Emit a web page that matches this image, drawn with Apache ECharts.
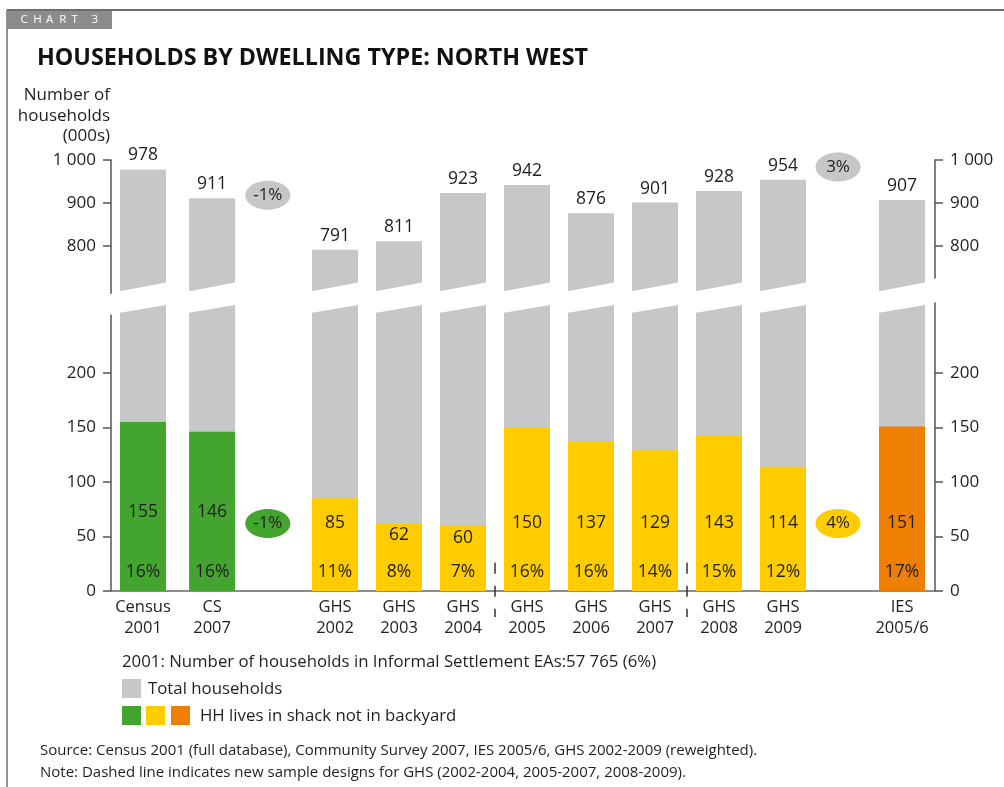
<!DOCTYPE html>
<html>
<head>
<meta charset="utf-8">
<script src="https://cdn.jsdelivr.net/npm/echarts@6/dist/echarts.min.js"></script>
<style>html,body{margin:0;padding:0;background:#fff}#c{width:1004px;height:787px}</style>
</head>
<body>
<div id="c"></div>
<script>
// ---- data ----
const categories = ['Census\n2001','CS\n2007','GHS\n2002','GHS\n2003','GHS\n2004','GHS\n2005','GHS\n2006','GHS\n2007','GHS\n2008','GHS\n2009','IES\n2005/6'];
const totals = [978, 911, 791, 811, 923, 942, 876, 901, 928, 954, 907];
const shack = [155, 146, 85, 62, 60, 150, 137, 129, 143, 114, 151];
const shackPct = ['16%','16%','11%','8%','7%','16%','16%','14%','15%','12%','17%'];
const source = ['census','census','ghs','ghs','ghs','ghs','ghs','ghs','ghs','ghs','ies'];
const growthUpper = ['-1%', '3%'];
const growthLower = ['-1%', '4%'];
const upperTicks = [800, 900, 1000];
const lowerTicks = [0, 50, 100, 150, 200];

// ---- layout ----
const xSlot = [0, 1.08, 3, 4, 5, 6, 7, 8, 9, 10, 11.86];
const growthPairs = [[1, 2], [9, 10]];
const growthShift = [-0.09, -0.07];
const growthUpperY = [918, 984];
const growthLowerY = 62;
const dividersAfter = [4, 7];
const BAR_W = 46;
const UP_BREAK_L = 695, UP_BREAK_R = 715;
const LO_BREAK_L = 255.3, LO_BREAK_R = 262.4;
const GRAY = '#c6c7c9';
const COLORS = { census: '#43a42f', ghs: '#ffcc00', ies: '#ef7f00' };
const FONT = '"Open Sans", "DejaVu Sans", sans-serif';
const TXT = '#1f1f1f';
const headerLetters = ['C', 'H', 'A', 'R', 'T', '3'];
const headerX = [20.5, 33.2, 46, 59.2, 71.4, 91.6];

const chart = echarts.init(document.getElementById('c'), null, { renderer: 'canvas' });

function fmtThousands(v) {
  return String(v).replace(/\B(?=(\d{3})+(?!\d))/g, ' ');
}

const xCommon = { type: 'value', min: -0.5, max: 12.375, splitLine: { show: false } };
const yAxisStyle = (pos, ticks) => ({
  type: 'value', position: pos,
  splitLine: { show: false },
  axisLine: { show: true, onZero: false, lineStyle: { color: '#555', width: 1.5 } },
  axisTick: { show: true, inside: false, length: 8, lineStyle: { color: '#555', width: 1.5 }, customValues: ticks },
  axisLabel: { show: true, margin: 15, fontSize: 17, color: TXT, fontFamily: FONT, customValues: ticks, formatter: fmtThousands }
});

const option = {
  animation: false,
  backgroundColor: '#fff',
  grid: [
    { left: 111, top: 160, width: 824, height: 133.3 },
    { left: 111, top: 315.2, width: 824, height: 275.8 },
    { left: 111, top: 160, width: 824, height: 118 },
    { left: 111, top: 303, width: 824, height: 288 }
  ],
  xAxis: [
    Object.assign({ gridIndex: 0, show: false }, xCommon),
    Object.assign({
      gridIndex: 1, position: 'bottom',
      axisLine: { show: true, onZero: false, lineStyle: { color: '#666', width: 1.5 } },
      axisTick: { show: false },
      axisLabel: {
        show: true, margin: 6, fontSize: 16.5, lineHeight: 21, color: TXT, fontFamily: FONT,
        customValues: xSlot,
        formatter: (v) => { const i = xSlot.findIndex(s => Math.abs(s - v) < 1e-6); return i >= 0 ? categories[i] : ''; }
      }
    }, xCommon),
    Object.assign({ gridIndex: 2, show: false }, xCommon),
    Object.assign({ gridIndex: 3, show: false }, xCommon)
  ],
  yAxis: [
    Object.assign({ gridIndex: 0, min: 690, max: 1000 }, yAxisStyle('left', upperTicks)),
    Object.assign({ gridIndex: 2, min: 725.6, max: 1000 }, yAxisStyle('right', upperTicks)),
    Object.assign({ gridIndex: 1, min: 0, max: 253 }, yAxisStyle('left', lowerTicks)),
    Object.assign({ gridIndex: 3, min: 0, max: 264.2 }, yAxisStyle('right', lowerTicks))
  ],
  series: [
    // upper part of total bars
    {
      type: 'custom', xAxisIndex: 0, yAxisIndex: 0, clip: false,
      data: totals.map((v, i) => [xSlot[i], v]),
      renderItem: (params, api) => {
        const x = api.value(0), v = api.value(1);
        const top = api.coord([x, v]);
        const bl = api.coord([x, UP_BREAK_L])[1], br = api.coord([x, UP_BREAK_R])[1];
        const h = BAR_W / 2;
        return { type: 'group', children: [
          { type: 'polygon', shape: { points: [[top[0] - h, top[1]], [top[0] + h, top[1]], [top[0] + h, br], [top[0] - h, bl]] }, style: { fill: GRAY } },
          { type: 'text', style: { text: String(v), x: top[0], y: top[1] - 5, align: 'center', verticalAlign: 'bottom', fontSize: 17.5, fontFamily: FONT, fill: TXT } }
        ] };
      }
    },
    // lower part of total bars
    {
      type: 'custom', xAxisIndex: 1, yAxisIndex: 2, clip: false,
      data: totals.map((v, i) => [xSlot[i], v]),
      renderItem: (params, api) => {
        const x = api.value(0);
        const base = api.coord([x, 0]);
        const tl = api.coord([x, LO_BREAK_L])[1], tr = api.coord([x, LO_BREAK_R])[1];
        const h = BAR_W / 2;
        return { type: 'polygon', shape: { points: [[base[0] - h, tl], [base[0] + h, tr], [base[0] + h, base[1]], [base[0] - h, base[1]]] }, style: { fill: GRAY } };
      }
    },
    // shack bars
    {
      type: 'custom', xAxisIndex: 1, yAxisIndex: 2, clip: false,
      data: shack.map((v, i) => [xSlot[i], v, i]),
      renderItem: (params, api) => {
        const x = api.value(0), v = api.value(1), i = api.value(2);
        const base = api.coord([x, 0]);
        const top = api.coord([x, v]);
        const h = BAR_W / 2;
        const grp = source[i];
        const numAt = Math.min(grp === 'census' ? 72 : 62.5, v - 11);
        const numY = api.coord([x, numAt])[1];
        const pctY = api.coord([x, 17.5])[1];
        return { type: 'group', children: [
          { type: 'rect', shape: { x: base[0] - h, y: top[1], width: BAR_W, height: base[1] - top[1] }, style: { fill: COLORS[grp] } },
          { type: 'text', style: { text: String(v), x: base[0], y: numY, align: 'center', verticalAlign: 'middle', fontSize: 17.5, fontFamily: FONT, fill: TXT } },
          { type: 'text', style: { text: shackPct[i], x: base[0], y: pctY, align: 'center', verticalAlign: 'middle', fontSize: 17.5, fontFamily: FONT, fill: TXT } }
        ] };
      }
    },
    // growth ellipses upper
    {
      type: 'custom', xAxisIndex: 0, yAxisIndex: 0, clip: false, z: 5,
      data: growthPairs.map((p, k) => [(xSlot[p[0]] + xSlot[p[1]]) / 2 + growthShift[k], growthUpperY[k], k]),
      renderItem: (params, api) => {
        const c = api.coord([api.value(0), api.value(1)]);
        const k = api.value(2);
        return { type: 'group', children: [
          { type: 'ellipse', shape: { cx: c[0], cy: c[1], rx: 22.5, ry: 14.5 }, style: { fill: GRAY } },
          { type: 'text', style: { text: growthUpper[k], x: c[0], y: c[1], align: 'center', verticalAlign: 'middle', fontSize: 17, fontFamily: FONT, fill: TXT } }
        ] };
      }
    },
    // growth ellipses lower
    {
      type: 'custom', xAxisIndex: 1, yAxisIndex: 2, clip: false, z: 5,
      data: growthPairs.map((p, k) => [(xSlot[p[0]] + xSlot[p[1]]) / 2 + growthShift[k], growthLowerY, k]),
      renderItem: (params, api) => {
        const c = api.coord([api.value(0), api.value(1)]);
        const k = api.value(2);
        const col = k === 0 ? COLORS.census : COLORS.ghs;
        return { type: 'group', children: [
          { type: 'ellipse', shape: { cx: c[0], cy: c[1], rx: 22.5, ry: 14.5 }, style: { fill: col } },
          { type: 'text', style: { text: growthLower[k], x: c[0], y: c[1], align: 'center', verticalAlign: 'middle', fontSize: 17, fontFamily: FONT, fill: TXT } }
        ] };
      }
    },
    // dashed sample-design dividers
    {
      type: 'custom', xAxisIndex: 1, yAxisIndex: 2, clip: false, z: 6,
      data: dividersAfter.map(i => [(xSlot[i] + xSlot[i + 1]) / 2]),
      renderItem: (params, api) => {
        const x = api.value(0);
        const p0 = api.coord([x, 26]);
        const pb = api.coord([x, 0]);
        return { type: 'line', shape: { x1: p0[0], y1: p0[1], x2: p0[0], y2: pb[1] + 26 }, style: { stroke: '#333', lineWidth: 1.5, lineDash: [11, 12] } };
      }
    }
  ],
  graphic: [
    { type: 'line', shape: { x1: 7, y1: 10, x2: 1004, y2: 10 }, style: { stroke: '#6d6d6d', lineWidth: 2 } },
    { type: 'line', shape: { x1: 7, y1: 10, x2: 7, y2: 787 }, style: { stroke: '#6d6d6d', lineWidth: 1.5 } },
    { type: 'rect', shape: { x: 7, y: 11, width: 105, height: 18 }, style: { fill: '#8c8c8c' } }
  ].concat(headerLetters.map((ch, i) => (
    { type: 'text', style: { text: ch, x: headerX[i], y: 20, verticalAlign: 'middle', fontSize: 11.5, fontFamily: FONT, fill: '#fff' } }
  ))).concat([
    { type: 'text', style: { text: 'HOUSEHOLDS BY DWELLING TYPE: NORTH WEST', x: 37, y: 58, verticalAlign: 'middle', fontSize: 23.3, fontWeight: 'bold', fontFamily: FONT, fill: '#111' } },
    { type: 'text', style: { text: 'Number of\nhouseholds\n(000s)', x: 110, y: 85, align: 'right', verticalAlign: 'top', fontSize: 17, lineHeight: 20.5, fontFamily: FONT, fill: TXT } },
    { type: 'text', style: { text: '2001: Number of households in Informal Settlement EAs:57 765 (6%)', x: 122, y: 662, verticalAlign: 'middle', fontSize: 16.8, fontFamily: FONT, fill: TXT } },
    { type: 'rect', shape: { x: 122, y: 679, width: 19, height: 19 }, style: { fill: GRAY } },
    { type: 'text', style: { text: 'Total households', x: 148, y: 689, verticalAlign: 'middle', fontSize: 16.8, fontFamily: FONT, fill: TXT } },
    { type: 'rect', shape: { x: 122, y: 706, width: 19, height: 19 }, style: { fill: COLORS.census } },
    { type: 'rect', shape: { x: 146, y: 706, width: 19, height: 19 }, style: { fill: COLORS.ghs } },
    { type: 'rect', shape: { x: 171, y: 706, width: 19, height: 19 }, style: { fill: COLORS.ies } },
    { type: 'text', style: { text: 'HH lives in shack not in backyard', x: 200, y: 716, verticalAlign: 'middle', fontSize: 16.8, fontFamily: FONT, fill: TXT } },
    { type: 'text', style: { text: 'Source: Census 2001 (full database), Community Survey 2007, IES 2005/6, GHS 2002-2009 (reweighted).', x: 40, y: 751, verticalAlign: 'middle', fontSize: 15, fontFamily: FONT, fill: TXT } },
    { type: 'text', style: { text: 'Note: Dashed line indicates new sample designs for GHS (2002-2004, 2005-2007, 2008-2009).', x: 40, y: 773, verticalAlign: 'middle', fontSize: 15, fontFamily: FONT, fill: TXT } }
  ])
};
chart.setOption(option);
</script>
</body>
</html>
